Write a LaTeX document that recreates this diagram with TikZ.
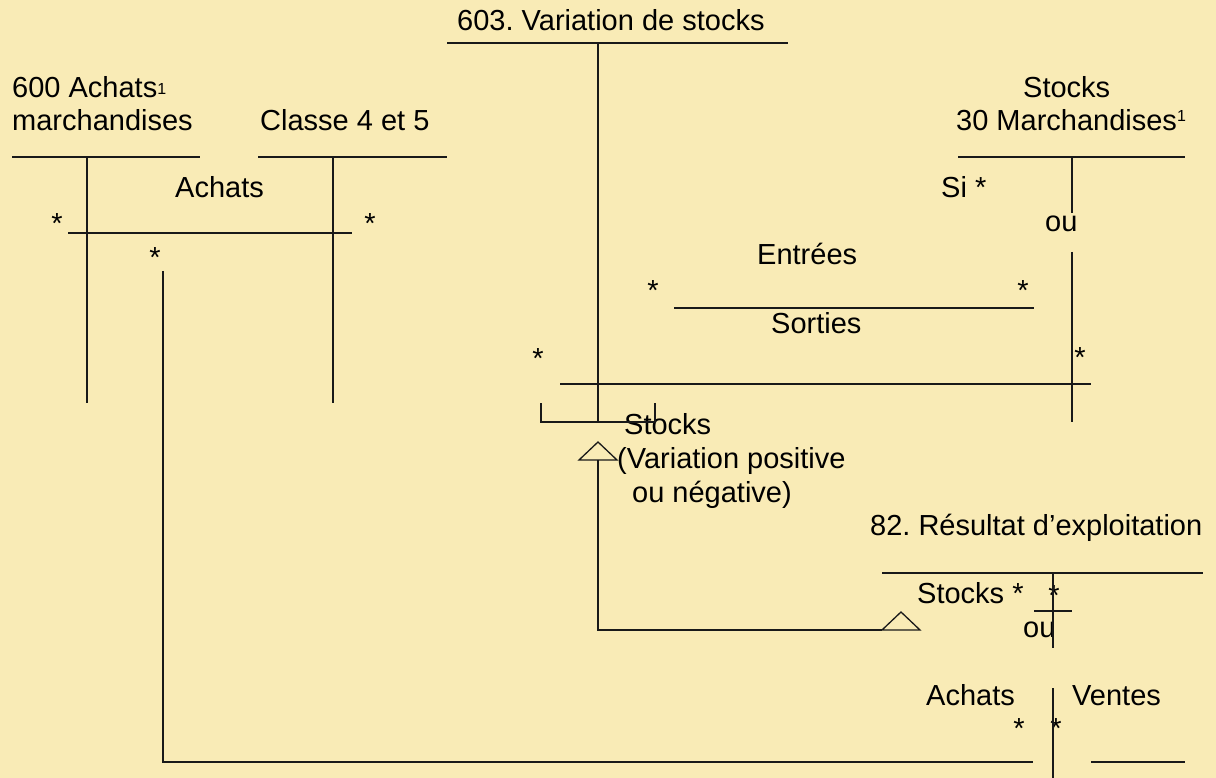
\documentclass[tikz,border=0pt]{standalone}
\usepackage{fontspec}
\setmainfont{Liberation Sans}
\frenchspacing
\definecolor{parch}{RGB}{249,235,182}
\definecolor{ink}{RGB}{0,0,0}
\newcommand\supone[1]{{\fontsize{16}{16}\selectfont\raisebox{#1}{1}}}
\begin{document}
\begin{tikzpicture}[x=1pt,y=-1pt,
  lbl/.style={inner sep=0pt, anchor=base west, text=ink, font=\fontsize{29}{34}\selectfont\frenchspacing},
  ast/.style={inner sep=0pt, anchor=north, text=ink, font=\fontsize{29}{34}\selectfont},
  ln/.style={line width=1.3pt, draw=ink!90},
  tri/.style={line width=1.3pt, draw=ink!90, line join=miter}]
\fill[parch] (0,0) rectangle (1216,778);
\useasboundingbox (0,0) rectangle (1216,778);

% ---- texts ----
\node[lbl] (t603) at (457,31) {603. Variation de stocks};
\node[lbl] (t600a) at (12,98) {600 Achats\supone{3pt}};
\node[lbl] (t600b) at (12,131) {marchandises};
\node[lbl] (tcl) at (260,131) {Classe 4 et 5};
\node[lbl] (tsta) at (1023,98) {Stocks};
\node[lbl] (tstb) at (956,131) {30 Marchandises\supone{9pt}};
\node[lbl] (tach1) at (175,198) {Achats};
\node[lbl] (tsi) at (941,198) {Si *};
\node[lbl] (tou1) at (1045,232) {ou};
\node[lbl] (tent) at (757,265) {Entrées};
\node[lbl] (tsor) at (771,333) {Sorties};
\node[lbl] (tvs1) at (624,434) {Stocks};
\node[lbl] (tvs2) at (617,468) {(Variation positive};
\node[lbl] (tvs3) at (632,502) {ou négative)};
\node[lbl] (t82) at (870,535) {82. Résultat d’exploitation};
\node[lbl] (tst82) at (917,603) {Stocks *};
\node[lbl] (tou2) at (1023,637) {ou};
\node[lbl] (tach2) at (926,705) {Achats};
\node[lbl] (tven) at (1072,705) {Ventes};

% ---- asterisks ----
\node[ast] (a1) at (57,213) {*};
\node[ast] (a2) at (370,213) {*};
\node[ast] (a3) at (155,247) {*};
\node[ast] (a4) at (653,280) {*};
\node[ast] (a5) at (1023,280) {*};
\node[ast] (a6) at (1080,347) {*};
\node[ast] (a7) at (538,348) {*};
\node[ast] (a8) at (1054,585) {*};
\node[ast] (a9) at (1019,718) {*};
\node[ast] (a10) at (1056,718) {*};

% ---- 603 account ----
\draw[ln] (447,43) -- (788,43);
\draw[ln] (598,43) -- (598,422);
\draw[ln] (541,403) -- (541,422) -- (655,422) -- (655,403);
\draw[ln] (560,384) -- (1091,384);

% ---- 30 Marchandises account ----
\draw[ln] (958,157) -- (1185,157);
\draw[ln] (1072,157) -- (1072,213);
\draw[ln] (1072,252) -- (1072,422);
\draw[ln] (674,308) -- (1034,308);

% ---- 600 and Classe 4 et 5 ----
\draw[ln] (12,157) -- (200,157);
\draw[ln] (87,157) -- (87,403);
\draw[ln] (258,157) -- (447,157);
\draw[ln] (333,157) -- (333,403);
\draw[ln] (68,233) -- (352,233);

% ---- long connector to 82 ----
\coordinate (c1) at (163,271);
\coordinate (c2) at (163,762);
\coordinate (c3) at (1033,762);
\draw[ln] (c1) -- (c2) -- (c3);
\draw[ln] (1091,762) -- (1185,762);
\draw[ln] (1053,688) -- (1053,778);

% ---- 82 account ----
\draw[ln] (882,573) -- (1203,573);
\draw[ln] (1053,573) -- (1053,648);
\draw[ln] (1034,611) -- (1072,611);

% ---- stock variation connector with triangles ----
\coordinate (v1) at (598,460);
\coordinate (v2) at (598,630);
\coordinate (v3) at (882,630);
\draw[tri] (579,460) -- (598,442) -- (617,460) -- cycle;
\draw[ln] (v1) -- (v2) -- (v3);
\draw[tri] (882,630) -- (901,612) -- (920,630) -- cycle;
\end{tikzpicture}
\end{document}
